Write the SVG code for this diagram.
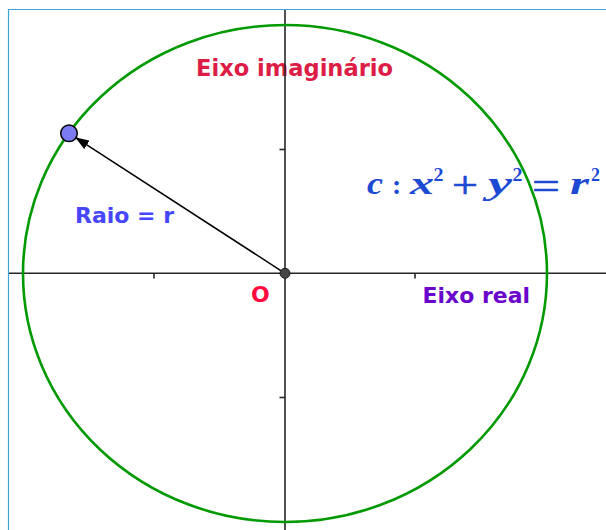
<svg xmlns="http://www.w3.org/2000/svg" width="606" height="530" viewBox="0 0 606 530">
<style>
.lbl{font-family:"DejaVu Sans","Liberation Sans",sans-serif;font-weight:bold}
.math{font-family:"Liberation Serif","DejaVu Serif",serif;font-weight:bold;fill:#1c4ad2}
.mi{font-style:italic;font-size:31px}
.sup{font-size:19px}
.op{font-size:38px;font-weight:normal}
.axis{stroke:#262626;stroke-width:1.6;fill:none}
</style>
<defs>
<marker id="arrow" viewBox="0 0 14 10" markerWidth="14" markerHeight="10" refX="13" refY="5" orient="auto" markerUnits="userSpaceOnUse">
<polygon points="0,0 14,5 0,10" fill="#000"/>
</marker>
</defs>
<rect width="606" height="530" fill="#fff"/>
<path d="M8.5,530 V9.5 H606" stroke="#3fa3d8" stroke-width="1.2" fill="none"/>
<g id="labels">
<g id="label-eixo-imaginario"><text class="lbl" x="196" y="76" font-size="23" fill="#dc1d46" textLength="197" lengthAdjust="spacingAndGlyphs">Eixo imaginário</text></g>
<g id="label-raio"><text class="lbl" x="75" y="223" font-size="21" fill="#4646ff" textLength="99" lengthAdjust="spacingAndGlyphs">Raio = r</text></g>
<g id="label-o"><text class="lbl" x="251" y="301.5" font-size="22" fill="#ff0a40">O</text></g>
<g id="label-eixo-real"><text class="lbl" x="422.5" y="302.7" font-size="22" fill="#6a05cc" textLength="107.5" lengthAdjust="spacingAndGlyphs">Eixo real</text></g>
<g id="equation" class="math">
<text class="mi" x="367" y="194" textLength="16" lengthAdjust="spacingAndGlyphs">c</text>
<text x="392" y="194" font-size="28">:</text>
<text class="mi" x="410" y="194" textLength="24" lengthAdjust="spacingAndGlyphs">x</text>
<text class="sup" x="433.5" y="180.5" textLength="10" lengthAdjust="spacingAndGlyphs">2</text>
<text class="op" x="452" y="198" textLength="26" lengthAdjust="spacingAndGlyphs" stroke="#1c4ad2" stroke-width="0.6">+</text>
<text class="mi" x="488" y="194" textLength="24" lengthAdjust="spacingAndGlyphs">y</text>
<text class="sup" x="512.5" y="180.5" textLength="10" lengthAdjust="spacingAndGlyphs">2</text>
<text class="op" x="532" y="199" textLength="28" lengthAdjust="spacingAndGlyphs" stroke="#1c4ad2" stroke-width="0.6">=</text>
<text class="mi" x="570" y="194" textLength="19" lengthAdjust="spacingAndGlyphs">r</text>
<text class="sup" x="591" y="180.5" textLength="9" lengthAdjust="spacingAndGlyphs">2</text>
</g>
</g>
<g id="axes">
<line class="axis" x1="285" y1="10" x2="285" y2="530"/>
<line class="axis" x1="9" y1="273.3" x2="606" y2="273.3"/>
<line class="axis" x1="154" y1="273" x2="154" y2="278.5"/>
<line class="axis" x1="415" y1="273" x2="415" y2="278.5"/>
<line class="axis" x1="279.5" y1="149.5" x2="285" y2="149.5"/>
<line class="axis" x1="279.5" y1="397.5" x2="285" y2="397.5"/>
</g>
<g id="circle-c">
<ellipse cx="285" cy="273.5" rx="262" ry="248.5" fill="none" stroke="#009a00" stroke-width="2.6"/>
</g>
<g id="connectors">
<line x1="285" y1="273.3" x2="76" y2="137.8" stroke="#000" stroke-width="1.5" marker-end="url(#arrow)"/>
</g>
<g id="point-origin">
<circle cx="285" cy="273.3" r="5" fill="#454545" stroke="#1a1a1a" stroke-width="1"/>
</g>
<g id="point-radius">
<circle cx="69" cy="133.3" r="8.3" fill="#7b7bf4" stroke="#000" stroke-width="1.5"/>
</g>
</svg>
